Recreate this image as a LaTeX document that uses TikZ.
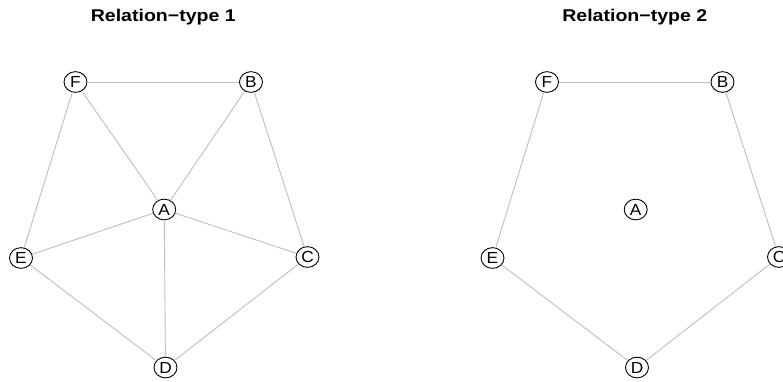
\documentclass[tikz,border=0pt]{standalone}
\usepackage{fontspec}
\setmainfont{Liberation Sans}
\newfontfamily\headfont{Liberation Sans}[FakeStretch=1.15]
\newfontfamily\vertexfont{Liberation Sans}[FakeStretch=1.08]
\usetikzlibrary{shapes.geometric}
\definecolor{edgegray}{RGB}{190,190,190}

\begin{document}
\begin{tikzpicture}[
        x=1pt, y=-1pt,
        vertex/.style={ellipse, draw=black, line width=0.9pt, fill=white, minimum width=23pt, minimum height=20.7pt, inner sep=0pt, font=\vertexfont\fontsize{16}{18}\selectfont},
        link/.style={draw=edgegray, line width=0.9pt},
        heading/.style={anchor=base, font=\headfont\bfseries\fontsize{17}{20}\selectfont}
    ]
        \useasboundingbox (0,0) rectangle (783,381);
        % left panel
        \node[heading] (title1) at (163.3,21.7) {Relation−type 1};
        \node[vertex] (lF) at (75.5,82) {F};
        \node[vertex] (lB) at (251,82) {B};
        \node[vertex] (lA) at (164.2,209.5) {A};
        \node[vertex] (lE) at (21,258) {E};
        \node[vertex] (lC) at (307.5,257) {C};
        \node[vertex] (lD) at (165.5,367.5) {D};
        \draw[link] (lF) -- (lB);
        \draw[link] (lF) -- (lA);
        \draw[link] (lB) -- (lA);
        \draw[link] (lF) -- (lE);
        \draw[link] (lB) -- (lC);
        \draw[link] (lA) -- (lE);
        \draw[link] (lA) -- (lC);
        \draw[link] (lA) -- (lD);
        \draw[link] (lE) -- (lD);
        \draw[link] (lC) -- (lD);
        % right panel
        \begin{scope}[xshift=471.5pt]
        \node[heading] (title2) at (163.3,21.7) {Relation−type 2};
        \node[vertex] (rF) at (75.5,82) {F};
        \node[vertex] (rB) at (251,82) {B};
        \node[vertex] (rA) at (164.2,209.5) {A};
        \node[vertex] (rE) at (21,258) {E};
        \node[vertex] (rC) at (307.5,257) {C};
        \node[vertex] (rD) at (165.5,367.5) {D};
        \end{scope}
        \draw[link] (rF) -- (rB);
        \draw[link] (rF) -- (rE);
        \draw[link] (rB) -- (rC);
        \draw[link] (rE) -- (rD);
        \draw[link] (rC) -- (rD);
    \end{tikzpicture}
\end{document}
